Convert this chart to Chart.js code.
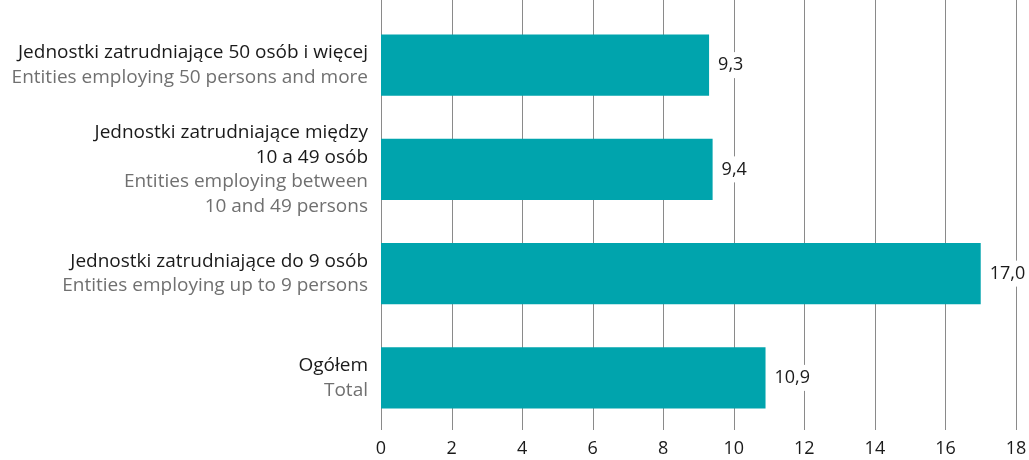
<!DOCTYPE html>
<html>
<head>
<meta charset="utf-8">
<script src="https://cdn.jsdelivr.net/npm/chart.js@4"></script>
<style>
  body { margin: 0; background: #fff; }
  #box { width: 1029px; height: 460px; position: relative; }
</style>
</head>
<body>
<div id="box"><canvas id="myChart"></canvas></div>
<script>
// data
let labelsPl = [
  ["Jednostki zatrudniające 50 osób i więcej"],
  ["Jednostki zatrudniające między", "10 a 49 osób"],
  ["Jednostki zatrudniające do 9 osób"],
  ["Ogółem"]
]
let labelsEn = [
  ["Entities employing 50 persons and more"],
  ["Entities employing between", "10 and 49 persons"],
  ["Entities employing up to 9 persons"],
  ["Total"]
]
let values = [9.3, 9.4, 17.0, 10.9]
let xTicks = [0, 2, 4, 6, 8, 10, 12, 14, 16, 18]

let fontName = "'Open Sans', 'Noto Sans', sans-serif"
let barColor = "#00a4ad"

// vertical grid from the top edge of the canvas down to the chart bottom
let gridPlugin = {
  id: "grid",
  beforeDatasetsDraw(chart) {
    let ctx = chart.ctx
    let xs = chart.scales.x
    ctx.save()
    ctx.strokeStyle = "#8a8a8a"
    ctx.lineWidth = 1
    xTicks.forEach(function (t) {
      let px = Math.round(xs.getPixelForValue(t)) + 0.5
      ctx.beginPath()
      ctx.moveTo(px, 0)
      ctx.lineTo(px, chart.chartArea.bottom)
      ctx.stroke()
    })
    ctx.restore()
  }
}

// category labels (two colours) and value labels
let textPlugin = {
  id: "texts",
  afterDatasetsDraw(chart) {
    let ctx = chart.ctx
    let ys = chart.scales.y
    let xs = chart.scales.x
    let lineH = 24.5
    ctx.save()
    ctx.textBaseline = "middle"
    for (let i = 0; i < values.length; i++) {
      let cy = ys.getPixelForValue(i)
      let lines = []
      labelsPl[i].forEach(function (s) { lines.push([s, "#1a1a1a"]) })
      labelsEn[i].forEach(function (s) { lines.push([s, "#707070"]) })
      let y0 = cy - (lines.length - 1) * lineH / 2
      ctx.font = "19px " + fontName
      ctx.textAlign = "right"
      for (let k = 0; k < lines.length; k++) {
        ctx.fillStyle = lines[k][1]
        ctx.fillText(lines[k][0], 368, y0 + k * lineH)
      }

      // value label with white box over the grid
      ctx.font = "18px " + fontName
      let txt = values[i].toFixed(1).replace(".", ",")
      let x = xs.getPixelForValue(values[i]) + 9
      let w = ctx.measureText(txt).width
      ctx.fillStyle = "#fff"
      ctx.fillRect(x - 3, cy - 13, w + 6, 26)
      ctx.fillStyle = "#1a1a1a"
      ctx.textAlign = "left"
      ctx.fillText(txt, x, cy)
    }
    ctx.restore()
  }
}

let myChart = new Chart(document.getElementById("myChart"), {
  type: "bar",
  data: {
    labels: labelsPl.map(function (l) { return l.join(" ") }),
    datasets: [{
      data: values,
      backgroundColor: barColor,
      barPercentage: 0.587,
      categoryPercentage: 1
    }]
  },
  options: {
    indexAxis: "y",
    responsive: true,
    maintainAspectRatio: false,
    animation: false,
    layout: { padding: { left: 381, right: 13, top: 13, bottom: 0 } },
    plugins: { legend: { display: false }, tooltip: { enabled: false } },
    scales: {
      x: {
        min: 0,
        max: 18,
        afterBuildTicks: function (axis) {
          axis.ticks = xTicks.map(function (v) { return { value: v } })
        },
        afterFit: function (axis) {
          axis.height = 30
          axis.paddingLeft = 0
          axis.paddingRight = 0
        },
        grid: { display: false, drawTicks: false },
        border: { display: false },
        ticks: {
          color: "#1a1a1a",
          padding: 8,
          font: { size: 18, family: fontName }
        }
      },
      y: {
        display: false
      }
    }
  },
  plugins: [gridPlugin, textPlugin]
})
</script>
</body>
</html>
